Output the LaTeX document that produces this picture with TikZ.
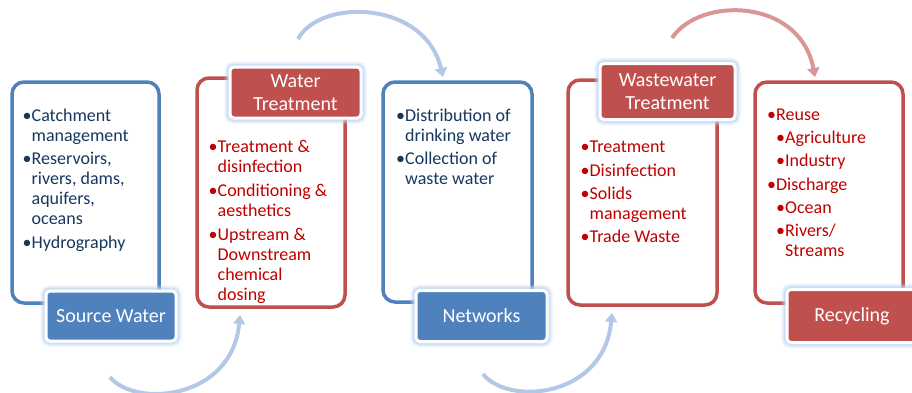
\documentclass[tikz,border=0pt]{standalone}
\usepackage{fontspec}
\setmainfont{Carlito}
\usetikzlibrary{arrows.meta}
\definecolor{accblue}{RGB}{79,129,189}
\definecolor{accred}{RGB}{192,80,77}
\definecolor{navytext}{RGB}{23,55,94}
\definecolor{redtext}{RGB}{192,0,0}
\definecolor{arrowblue}{RGB}{180,199,231}
\definecolor{arrowred}{RGB}{218,150,148}
\definecolor{glow}{RGB}{189,213,243}
\newcommand{\bul}{\textbullet}
\newcommand{\ind}{\phantom{\textbullet}}

\begin{document}
\begin{tikzpicture}[x=1pt, y=-1pt,
  panel/.style={draw, line width=3.5pt, rounded corners=12pt, fill=white, inner sep=0pt},
  tag/.style={draw=white, line width=3pt, rounded corners=4pt, text=white, align=center, inner sep=0pt,
    font=\fontsize{20}{23}\selectfont,
    preaction={draw=glow, line width=11pt, opacity=0.35},
    preaction={draw=glow, line width=7pt, opacity=0.6}},
  items/.style={anchor=north west, align=left, inner sep=0pt, font=\fontsize{18}{20}\selectfont},
  flow/.style={line width=4pt, -{Triangle[width=12pt,length=9pt]}}]
  \useasboundingbox (0,0) rectangle (912,392);

  % the five stages
  \node[panel, draw=accblue, minimum width=147pt, minimum height=221pt] (srcbox) at (85.5,192.5) {};
  \node[panel, draw=accred, minimum width=148pt, minimum height=229pt] (wtbox) at (271,192.5) {};
  \node[panel, draw=accblue, minimum width=149pt, minimum height=220pt] (netbox) at (457.5,192) {};
  \node[panel, draw=accred, minimum width=149pt, minimum height=225pt] (wwbox) at (642.5,192.5) {};
  \node[panel, draw=accred, minimum width=148pt, minimum height=221pt] (recbox) at (829,192.5) {};

  \node[tag, fill=accblue, minimum width=130pt, minimum height=50pt] (srctag) at (111,316) {Source Water};
  \node[tag, fill=accred, minimum width=131pt, minimum height=51pt] (wttag) at (295.5,92.5) {Water\\Treatment};
  \node[tag, fill=accblue, minimum width=131pt, minimum height=51pt] (nettag) at (481.5,316) {Networks};
  \node[tag, fill=accred, minimum width=135pt, minimum height=56pt] (wwtag) at (667.5,91.5) {Wastewater\\Treatment};
  \node[tag, fill=accred, minimum width=130pt, minimum height=53pt] (rectag) at (852,316) {Recycling};

  \node[items, text=navytext] (srclist) at (22.5,108.5) {\bul Catchment\\\ind management\\[3.5pt]\bul Reservoirs,\\\ind rivers, dams,\\\ind aquifers,\\\ind oceans\\[3.5pt]\bul Hydrography};
  \node[items, text=redtext] (wtlist) at (208.5,140) {\bul Treatment \&\\\ind disinfection\\[4pt]\bul Conditioning \&\\\ind aesthetics\\[4pt]\bul Upstream \&\\\ind Downstream\\\ind chemical\\\ind dosing};
  \node[items, text=navytext] (netlist) at (396,109) {\bul Distribution of\\\ind drinking water\\[3pt]\bul Collection of\\\ind waste water};
  \node[items, text=redtext] (wwlist) at (580.5,141) {\bul Treatment\\[3.3pt]\bul Disinfection\\[3pt]\bul Solids\\\ind management\\[3.3pt]\bul Trade Waste};
  \node[items, text=redtext] (reclist) at (767,108.5) {\bul Reuse\\[3.3pt]\ind\bul Agriculture\\[3.3pt]\ind\bul Industry\\[3.3pt]\bul Discharge\\[3.3pt]\ind\bul Ocean\\[3.3pt]\ind\bul Rivers/\\\ind\ind Streams};

  % curved arrows between the stages
  \coordinate (src out) at (110,377);
  \coordinate (wt in) at (240,315);
  \coordinate (wt out) at (298,39);
  \coordinate (net in) at (443,77);
  \coordinate (net out) at (483,374);
  \coordinate (ww in) at (612,313);
  \coordinate (ww out) at (672,38);
  \coordinate (rec in) at (815,77);

  \draw[flow, draw=arrowblue] (src out) .. controls (135,408) and (232,400) .. (wt in);
  \draw[flow, draw=arrowblue] (wt out) .. controls (320,-2) and (425,0) .. (net in);
  \draw[flow, draw=arrowblue] (net out) .. controls (508,406) and (604,398) .. (ww in);
  \draw[flow, draw=arrowred] (ww out) .. controls (700,-4) and (800,-2) .. (rec in);
\end{tikzpicture}
\end{document}
